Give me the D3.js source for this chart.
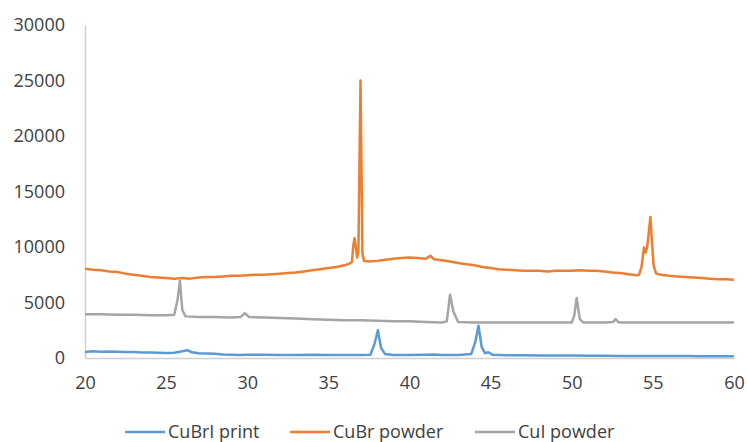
<!DOCTYPE html>
<html>
<head>
<meta charset="utf-8">
<script src="https://cdn.jsdelivr.net/npm/d3@7"></script>
<style>
  body { margin: 0; background: #fff; }
  text { font-family: "Open Sans", sans-serif; fill: #404040; }
</style>
</head>
<body>
<div id="chart"></div>
<script>
// [2theta, counts]
const cubriPrint = [
  [20, 550], [20.5, 600], [21, 570], [21.5, 590], [22, 560], [22.5, 540], [23, 550],
  [23.5, 500], [24, 490], [24.5, 470], [25, 450], [25.5, 470], [26, 600], [26.3, 700],
  [26.6, 520], [27, 420], [27.5, 400], [28, 380], [28.5, 320], [29, 300], [29.5, 260],
  [30, 290], [31, 300], [32, 270], [33, 280], [34, 290], [35, 260], [36, 270],
  [37, 280], [37.6, 300], [37.85, 1300], [38.05, 2500], [38.25, 900], [38.5, 350],
  [39, 280], [40, 260], [41, 300], [41.5, 320], [42, 270], [43, 280], [43.8, 350],
  [44.05, 1400], [44.25, 2900], [44.45, 1000], [44.65, 430], [44.85, 520], [45.1, 300],
  [46, 250], [47, 240], [48, 230], [49, 220], [50, 230], [51, 200], [52, 210],
  [53, 190], [54, 180], [55, 180], [56, 170], [57, 170], [58, 160], [59, 160], [60, 150]
];

const cubrPowder = [
  [20, 8050], [20.5, 7950], [21, 7900], [21.5, 7800], [22, 7750], [22.5, 7600],
  [23, 7500], [23.5, 7400], [24, 7300], [24.5, 7250], [25, 7200], [25.5, 7150],
  [26, 7200], [26.5, 7150], [27, 7250], [27.5, 7300], [28, 7300], [28.5, 7350],
  [29, 7400], [29.5, 7400], [30, 7450], [30.5, 7500], [31, 7500], [31.5, 7550],
  [32, 7600], [32.5, 7650], [33, 7700], [33.5, 7800], [34, 7900], [34.5, 8000],
  [35, 8100], [35.5, 8200], [36, 8350], [36.3, 8500], [36.45, 8650], [36.55, 10300],
  [36.62, 10800], [36.7, 9900], [36.77, 9050], [36.85, 9600], [36.98, 25000],
  [37.1, 9400], [37.2, 8750], [37.5, 8700], [38, 8750], [38.5, 8850], [39, 8950],
  [39.5, 9000], [40, 9050], [40.5, 9000], [41, 8950], [41.3, 9200], [41.5, 8900],
  [42, 8800], [42.5, 8700], [43, 8550], [43.5, 8450], [44, 8350], [44.5, 8200],
  [45, 8100], [45.5, 8000], [46, 7950], [46.5, 7900], [47, 7850], [48, 7850],
  [48.5, 7800], [49, 7850], [50, 7850], [50.5, 7900], [51, 7850], [51.5, 7850],
  [52, 7800], [52.5, 7700], [53, 7650], [53.5, 7550], [54, 7450], [54.15, 7500],
  [54.3, 8200], [54.45, 9950], [54.55, 9500], [54.65, 10000], [54.85, 12700],
  [54.95, 10300], [55.05, 8300], [55.2, 7600], [55.5, 7500], [56, 7400], [56.5, 7350],
  [57, 7300], [57.5, 7250], [58, 7200], [58.5, 7150], [59, 7100], [59.5, 7100], [60, 7050]
];

const cuiPowder = [
  [20, 3950], [21, 3950], [22, 3900], [23, 3900], [24, 3850], [25, 3850], [25.5, 3900],
  [25.7, 5200], [25.85, 6950], [26.0, 4300], [26.2, 3750], [27, 3700], [28, 3700],
  [29, 3650], [29.6, 3700], [29.85, 4050], [30.1, 3700], [31, 3650], [32, 3600],
  [33, 3550], [34, 3500], [35, 3450], [36, 3400], [37, 3400], [38, 3350], [39, 3300],
  [40, 3300], [41, 3250], [42, 3200], [42.3, 3300], [42.5, 5700], [42.7, 4200],
  [43, 3250], [44, 3200], [45, 3200], [46, 3200], [47, 3200], [48, 3200], [49, 3200],
  [50, 3200], [50.15, 3800], [50.3, 5400], [50.5, 3500], [50.7, 3200], [51, 3200],
  [52, 3200], [52.55, 3250], [52.7, 3500], [52.85, 3250], [53, 3200], [54, 3200],
  [55, 3200], [56, 3200], [57, 3200], [58, 3200], [59, 3200], [60, 3200]
];

const seriesNames = ["CuBrI print", "CuBr powder", "CuI powder"];
const seriesColors = ["#5B9BD5", "#ED7D31", "#A5A5A5"];
const xTicks = [20, 25, 30, 35, 40, 45, 50, 55, 60];
const yTicks = [0, 5000, 10000, 15000, 20000, 25000, 30000];

const width = 747;
const height = 442;
const margin = { top: 25, right: 13, bottom: 84, left: 85 };

const svg = d3.select("#chart")
  .append("svg")
  .attr("width", width)
  .attr("height", height);

const x = d3.scaleLinear().domain([20, 60]).range([margin.left, width - margin.right]);
const y = d3.scaleLinear().domain([0, 30000]).range([height - margin.bottom, margin.top]);

// Y axis
const yAxis = svg.append("g")
  .attr("transform", `translate(${margin.left},0)`)
  .call(d3.axisLeft(y).tickValues(yTicks).tickSize(0).tickPadding(20).tickFormat(d3.format("d")));
yAxis.select(".domain").attr("stroke", "#D0D0D0").attr("stroke-width", 1.5);
yAxis.selectAll("text").style("font-size", "18px").attr("fill", "#404040");

// X axis
const xAxis = svg.append("g")
  .attr("transform", `translate(0,${y(0)})`)
  .call(d3.axisBottom(x).tickValues(xTicks).tickSize(0).tickPadding(18));
xAxis.select(".domain").attr("stroke", "#D0D0D0").attr("stroke-width", 1.5);
xAxis.selectAll("text").style("font-size", "18px").attr("fill", "#404040");

// Lines
const line = d3.line().x(d => x(d[0])).y(d => y(d[1]));
[cubriPrint, cubrPowder, cuiPowder].forEach((data, i) => {
  svg.append("path")
    .datum(data)
    .attr("fill", "none")
    .attr("stroke", seriesColors[i])
    .attr("stroke-width", 2.5)
    .attr("stroke-linejoin", "round")
    .attr("d", line);
});

// Legend
const legendX = [125, 290, 475];
const legend = svg.append("g").attr("transform", "translate(0,432)");
seriesNames.forEach((name, i) => {
  legend.append("line")
    .attr("x1", legendX[i]).attr("x2", legendX[i] + 40)
    .attr("y1", 0).attr("y2", 0)
    .attr("stroke", seriesColors[i])
    .attr("stroke-width", 2.5);
  legend.append("text")
    .attr("x", legendX[i] + 43)
    .attr("y", 0)
    .attr("dy", "0.35em")
    .style("font-size", "18px")
    .text(name);
});
</script>
</body>
</html>
